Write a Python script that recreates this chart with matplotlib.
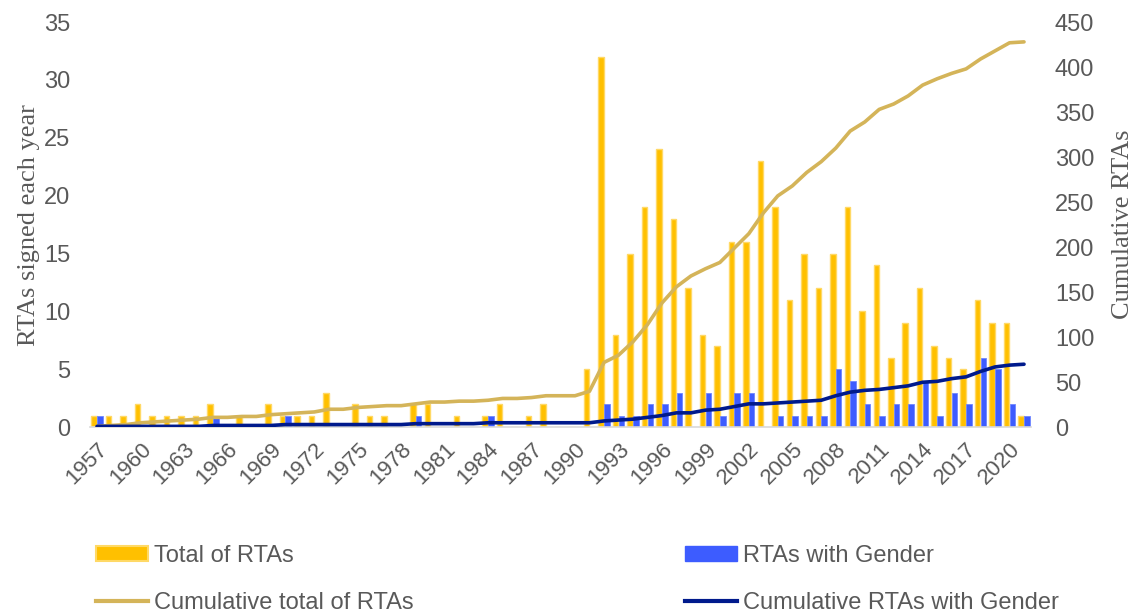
import numpy as np
import matplotlib
matplotlib.use("Agg")
from matplotlib import pyplot as plt
from matplotlib.patches import Patch
from matplotlib.lines import Line2D

## 資料:每年簽署的 RTA 數量
years = list(range(1957, 2022))
total_rtas = [1, 1, 1, 2, 1, 1, 1, 1, 2, 0,
              1, 0, 2, 1, 1, 1, 3, 0, 2, 1,
              1, 0, 2, 2, 0, 1, 0, 1, 2, 0,
              1, 2, 0, 0, 5, 32, 8, 15, 19, 24,
              18, 12, 8, 7, 16, 16, 23, 19, 11, 15,
              12, 15, 19, 10, 14, 6, 9, 12, 7, 6,
              5, 11, 9, 9, 1]
gender_rtas = [1, 0, 0, 0, 0, 0, 0, 0, 1, 0,
               0, 0, 0, 1, 0, 0, 0, 0, 0, 0,
               0, 0, 1, 0, 0, 0, 0, 1, 0, 0,
               0, 0, 0, 0, 0, 2, 1, 1, 2, 2,
               3, 0, 3, 1, 3, 3, 0, 1, 1, 1,
               1, 5, 4, 2, 1, 2, 2, 4, 1, 3,
               2, 6, 5, 2, 1]
tick_years = years[::3]

cum_total = np.cumsum(total_rtas)
cum_gender = np.cumsum(gender_rtas)

gold = '#FFC000'
gold_edge = '#FFD966'
blue = '#3D5CFF'
tan = '#D4B459'
navy = '#001A8C'
grey = '#595959'

plt.rcParams['font.family'] = ['Liberation Sans', 'DejaVu Sans']

fig = plt.figure(figsize=(11.37, 6.13), dpi=100)
ax = fig.add_axes([0.079, 0.303, 0.828, 0.661])
ax2 = ax.twinx()

x = np.arange(len(years))
w = 0.38
ax.bar(x - 0.2, total_rtas, w, color=gold, edgecolor=gold_edge, linewidth=1, zorder=2)
ax.bar(x + 0.2, gender_rtas, w, color=blue, edgecolor='#6F86FF', linewidth=0.6, zorder=2)

# 累計折線 (右軸)
ax2.plot(x, cum_total, color=tan, lw=2.6, solid_capstyle='round')
ax2.plot(x, cum_gender, color=navy, lw=2.6, solid_capstyle='round')

ax.set_xlim(-0.5, len(years) - 0.5)
ax.set_ylim(0, 35)
ax2.set_ylim(0, 450)
ax.set_yticks(range(0, 36, 5))
ax2.set_yticks(range(0, 451, 50))
ax.set_xticks(x[::3])
ax.set_xticklabels([str(y) for y in tick_years], rotation=45, ha='right',
                   rotation_mode='anchor')

for a in (ax, ax2):
    for s in a.spines.values():
        s.set_visible(False)
    a.tick_params(length=0, labelsize=17, labelcolor=grey)
ax.spines['bottom'].set_visible(True)
ax.spines['bottom'].set_color('#D9D9D9')
ax.spines['bottom'].set_linewidth(1.2)
ax.tick_params(axis='x', pad=8, labelsize=16)
ax.tick_params(axis='y', pad=14)
ax2.tick_params(axis='y', pad=17)

ax.set_ylabel('RTAs signed each year', family='Liberation Serif', fontsize=19, color=grey, labelpad=3)
ax2.set_ylabel('Cumulative RTAs', family='Liberation Serif', fontsize=19, color=grey, labelpad=13)

# 圖例
handles = [Patch(facecolor=gold, edgecolor=gold_edge, linewidth=1.5),
           Line2D([], [], color=tan, lw=3),
           Patch(facecolor=blue, edgecolor=blue),
           Line2D([], [], color=navy, lw=3)]
labels = ['Total of RTAs', 'Cumulative total of RTAs',
          'RTAs with Gender', 'Cumulative RTAs with Gender']
leg = fig.legend(handles, labels, loc='lower left', bbox_to_anchor=(0.066, -0.036),
                 ncol=2, frameon=False, fontsize=17, handlelength=2.2,
                 handleheight=0.6, handletextpad=0.25, columnspacing=11.5,
                 labelspacing=1.05)
for t in leg.get_texts():
    t.set_color(grey)

plt.savefig('out.png', dpi=100)
